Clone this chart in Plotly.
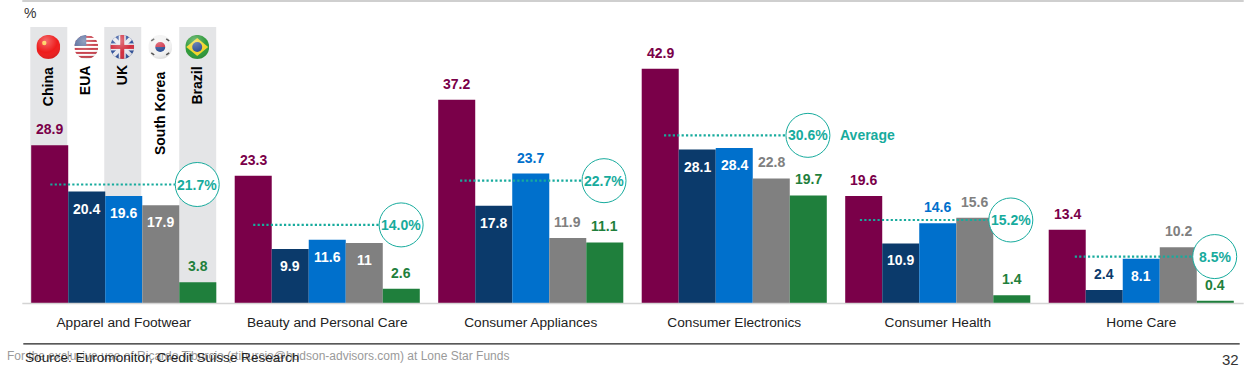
import base64
import plotly.graph_objects as go

W, H = 1244, 369
L, R, T, B = 21.7, 0.7, 2, 65.5
PXU = 5.47
BAR_PX = 37

categories = ["Apparel and Footwear", "Beauty and Personal Care", "Consumer Appliances",
              "Consumer Electronics", "Consumer Health", "Home Care"]
china = [28.9, 23.3, 37.2, 42.9, 19.6, 13.4]
eua = [20.4, 9.9, 17.8, 28.1, 10.9, 2.4]
uk = [19.6, 11.6, 23.7, 28.4, 14.6, 8.1]
korea = [17.9, 11, 11.9, 22.8, 15.6, 10.2]
brazil = [3.8, 2.6, 11.1, 19.7, 1.4, 0.4]
average_level = [21.7, 14.3, 22.4, 30.7, 15.2, 8.5]
average_labels = ["21.7%", "14.0%", "22.7%", "30.6%", "15.2%", "8.5%"]
series_names = ["China", "EUA", "UK", "South Korea", "Brazil"]
series_colors = ["#7a0049", "#0b3a6b", "#0070cc", "#808080", "#1f7f3c"]
inside = [
    [0, 0, 0, 0, 0, 0],
    [1, 1, 1, 1, 1, 0],
    [1, 1, 0, 1, 0, 1],
    [1, 1, 0, 0, 0, 0],
    [0, 0, 0, 0, 0, 0],
]
TEAL = "#17ab9d"
FONT = "Liberation Sans"


def px(x):
    return (x - L) / (W - L - R)


def py(y):
    return 1 - (y - T) / (H - T - B)


def flag(body):
    svg = ('<svg xmlns="http://www.w3.org/2000/svg" viewBox="0 0 24 24">'
           '<defs><clipPath id="c"><circle cx="12" cy="12" r="12"/></clipPath>'
           '<radialGradient id="g" cx="0.4" cy="0.25" r="0.8"><stop offset="0" stop-color="#fff" stop-opacity="0.35"/>'
           '<stop offset="0.6" stop-color="#fff" stop-opacity="0"/><stop offset="1" stop-color="#000" stop-opacity="0.12"/>'
           '</radialGradient></defs>'
           f'<g clip-path="url(#c)">{body}<rect width="24" height="24" fill="url(#g)"/></g></svg>')
    return "data:image/svg+xml;base64," + base64.b64encode(svg.encode()).decode()


flags = [
    flag('<rect width="24" height="24" fill="#ee1c1c"/><circle cx="8" cy="8" r="2.2" fill="#ffc83c"/>'),
    flag('<rect width="24" height="24" fill="#ffffff"/>'
         + "".join(f'<rect y="{y}" width="24" height="2" fill="#c8424e"/>' for y in range(1, 24, 4))
         + '<rect width="12" height="11" fill="#5a6f9f"/>'),
    flag('<rect width="24" height="24" fill="#33549c"/>'
         '<path d="M0 0L24 24M24 0L0 24" stroke="#e8e8ee" stroke-width="4"/>'
         '<rect x="8.5" width="7" height="24" fill="#e8e8ee"/><rect y="8.5" width="24" height="7" fill="#e8e8ee"/>'
         '<rect x="10" width="4" height="24" fill="#d22f3f"/><rect y="10" width="24" height="4" fill="#d22f3f"/>'),
    flag('<rect width="24" height="24" fill="#f2f2f2"/>'
         '<path d="M7 12a5 5 0 0 1 10 0z" fill="#cf2f45"/><path d="M7 12a5 5 0 0 0 10 0z" fill="#2a4d94"/>'
         '<path d="M3 6l3-2M3 18l3 2M21 6l-3-2M21 18l-3 2" stroke="#555" stroke-width="1.6"/>'),
    flag('<rect width="24" height="24" fill="#2f9a3a"/>'
         '<path d="M12 3L23 12L12 21L1 12Z" fill="#f2d52b"/><circle cx="12" cy="12" r="5" fill="#2f4f96"/>'),
]

fig = go.Figure()
annotations = []
all_series = [china, eua, uk, korea, brazil]
for s, (name, vals, color, ins) in enumerate(zip(series_names, all_series, series_colors, inside)):
    fig.add_trace(go.Bar(
        name=name, x=categories, y=vals, marker=dict(color=color, line=dict(width=0)), hoverinfo="skip",
    ))
    for cat, v, i in zip(categories, vals, ins):
        annotations.append(dict(
            xref="x", yref="y", x=cat, y=v, text=f"<b>{v}</b>", showarrow=False,
            xshift=(s - 2) * BAR_PX, yshift=-17 if i else 16, xanchor="center", yanchor="middle",
            font=dict(family=FONT, size=14, color="#ffffff" if i else color),
        ))

shapes = []
# Grey country columns behind the first group
for x0, x1 in [(30, 67), (104, 141), (179, 216)]:
    shapes.append(dict(type="rect", xref="paper", yref="paper", x0=px(x0), x1=px(x1), y0=py(27), y1=py(303.5),
                       fillcolor="#e4e5e7", line_width=0, layer="below"))
# Rules
shapes.append(dict(type="line", xref="paper", yref="paper", x0=px(22), x1=px(1244), y0=py(1), y1=py(1),
                   line=dict(color="#cfcfcf", width=2)))
shapes.append(dict(type="line", xref="paper", yref="paper", x0=px(22), x1=px(1244), y0=py(304), y1=py(304),
                   line=dict(color="#d4d4d4", width=1.5)))
shapes.append(dict(type="line", xref="paper", yref="paper", x0=px(23), x1=px(1240), y0=py(344.5), y1=py(344.5),
                   line=dict(color="#222222", width=1.2)))

# Average markers
line_starts = [50, 253, 460, 664, 860, 1075]
circle_x = [197, 401, 604, 808, 1011, 1215]
for xs, xc, a, lab in zip(line_starts, circle_x, average_level, average_labels):
    shapes.append(dict(type="line", xref="paper", yref="y", x0=px(xs), x1=px(xc - 22), y0=a, y1=a,
                       line=dict(color=TEAL, width=2.2, dash="2.2px,2.2px")))
    shapes.append(dict(type="circle", xref="paper", yref="y", xsizemode="pixel", ysizemode="pixel",
                       xanchor=px(xc), yanchor=a, x0=-22, x1=22, y0=-22, y1=22,
                       fillcolor="#ffffff", line=dict(color=TEAL, width=1)))
    annotations.append(dict(xref="paper", yref="y", x=px(xc), y=a, text=f"<b>{lab}</b>", showarrow=False,
                            xanchor="center", yanchor="middle", font=dict(family=FONT, size=14, color=TEAL)))
annotations.append(dict(xref="paper", yref="y", x=px(838), y=average_level[3], xanchor="left", yanchor="middle",
                        text="<b>Average</b>", showarrow=False, font=dict(family=FONT, size=14, color=TEAL)))

# Rotated country names
for name, x, y in zip(series_names, [48, 85, 122, 160, 197], [87, 80, 75, 114, 85.5]):
    annotations.append(dict(xref="paper", yref="paper", x=px(x), y=py(y), text=f"<b>{name}</b>", textangle=-90,
                            showarrow=False, xanchor="center", yanchor="middle",
                            font=dict(family=FONT, size=14, color="#000000")))

# Flags
images = []
for src, x in zip(flags, [48, 86, 122, 160, 197]):
    images.append(dict(source=src, xref="paper", yref="paper", x=px(x), y=py(47), sizex=24 / (W - L - R),
                       sizey=24 / (H - T - B), xanchor="center", yanchor="middle", layer="above"))


def text(x, y, s, size, color, anchor="left"):
    annotations.append(dict(xref="paper", yref="paper", x=px(x), y=py(y), text=s, showarrow=False, xanchor=anchor,
                            yanchor="middle", font=dict(family=FONT, size=size, color=color)))


text(22, 13, "%", 14, "#333333")
text(5, 357, "For the exclusive use of Ricardo Tiburcio (rtiburcio@hudson-advisors.com) at Lone Star Funds", 12, "#9a9a9a")
text(23, 358, "Source: Euromonitor, Credit Suisse Research", 13.6, "#222222")
text(1241, 360, "32", 15, "#333333", "right")

fig.update_layout(
    width=W, height=H, autosize=False, barmode="group", bargap=0.0905, bargroupgap=0,
    margin=dict(l=L, r=R, t=T, b=B, pad=0), plot_bgcolor="#ffffff", paper_bgcolor="#ffffff",
    showlegend=False, shapes=shapes, annotations=annotations, images=images,
    font=dict(family=FONT),
    xaxis=dict(type="category", showgrid=False, showline=False, zeroline=False, ticks="outside",
               ticklen=7, tickcolor="rgba(0,0,0,0)", tickfont=dict(family=FONT, size=13.7, color="#222222")),
    yaxis=dict(range=[0, (H - T - B) / PXU], visible=False, showgrid=False, zeroline=False),
)
fig.write_html("out.html", config={"displayModeBar": False},
               post_script="document.body.style.margin='0';document.documentElement.style.overflow='hidden';")
